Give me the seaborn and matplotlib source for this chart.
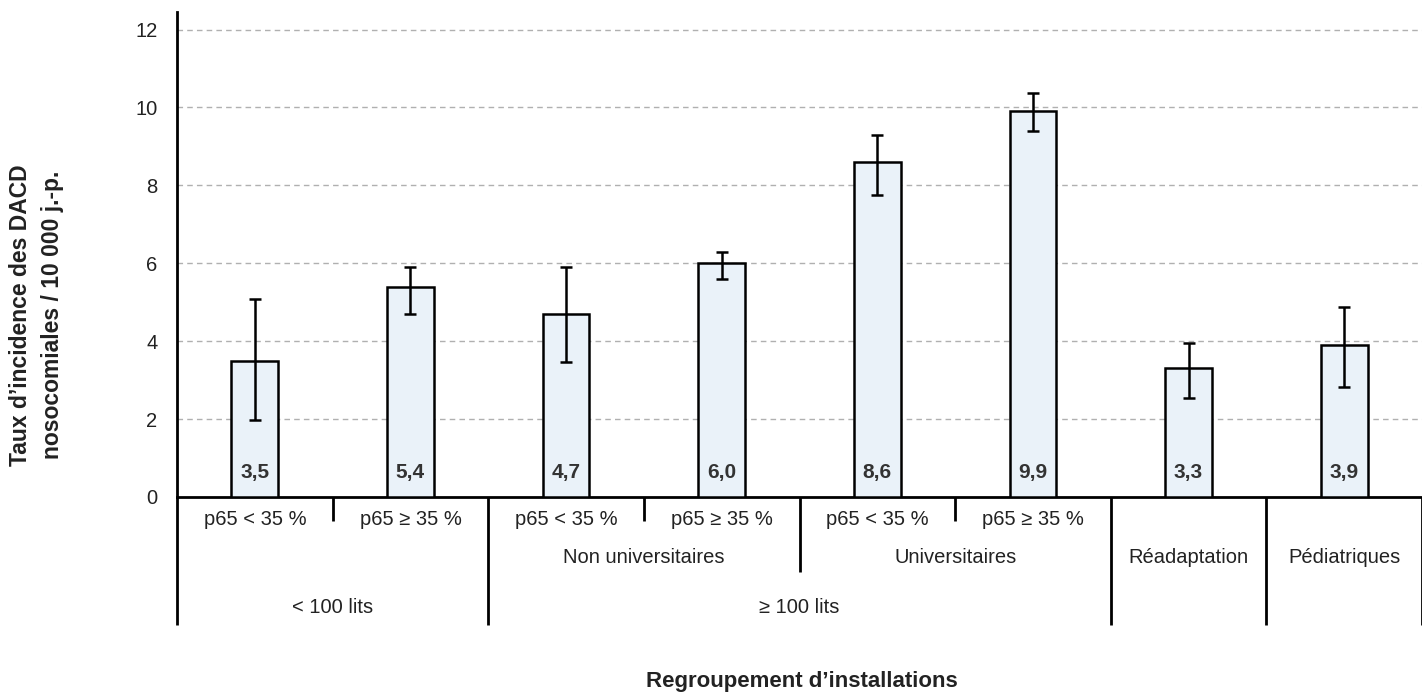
import numpy as np
import pandas as pd
import matplotlib
matplotlib.use("Agg")
import matplotlib.pyplot as plt
import matplotlib.transforms as mtransforms
import seaborn as sns

# ── data ──────────────────────────────────────────────────────────────────────
groupes   = ["<100 p65<35", "<100 p65>=35", "NU p65<35", "NU p65>=35",
             "U p65<35", "U p65>=35", "Readapt", "Pedia"]
taux      = [3.5, 5.4, 4.7, 6.0, 8.6, 9.9, 3.3, 3.9]
etiquettes = ["3,5", "5,4", "4,7", "6,0", "8,6", "9,9", "3,3", "3,9"]
ic_bas    = [1.98, 4.69, 3.47, 5.60, 7.75, 9.40, 2.54, 2.82]
ic_haut   = [5.08, 5.91, 5.91, 6.29, 9.30, 10.36, 3.95, 4.88]

niveau1 = ["p65 < 35 %", "p65 ≥ 35 %"] * 3
niveau2 = [("Non universitaires", 2, 4), ("Universitaires", 4, 6),
           ("Réadaptation", 6, 7), ("Pédiatriques", 7, 8)]
niveau3 = [("< 100 lits", 0, 2), ("≥ 100 lits", 2, 6)]

y_ticks = [0, 2, 4, 6, 8, 10, 12]

df = pd.DataFrame({"groupe": groupes, "taux": taux})

# ── style ─────────────────────────────────────────────────────────────────────
sns.set_theme(style="white")
plt.rcParams["font.family"] = ["Liberation Sans", "DejaVu Sans"]
TXT = "#222222"
FS = 14.5

fig = plt.figure(figsize=(14.22, 6.94), dpi=100)
ax = fig.add_axes([177 / 1422, 1 - 497 / 694, 1245 / 1422, 485 / 694])

sns.barplot(data=df, x="groupe", y="taux", order=groupes, color="#eaf2f9",
            saturation=1, width=0.30, edgecolor="black", linewidth=1.8,
            errorbar=None, ax=ax, zorder=3)

pos = np.arange(len(groupes))
taux_arr = np.array(taux)
yerr = [taux_arr - np.array(ic_bas), np.array(ic_haut) - taux_arr]
ax.errorbar(pos, taux_arr, yerr=yerr, fmt="none", ecolor="black",
            elinewidth=1.8, capsize=4.2, capthick=1.8, zorder=4)

for p, lab in zip(pos, etiquettes):
    ax.text(p, 0.62, lab, ha="center", va="center", fontsize=15,
            fontweight="bold", color="#333333", zorder=5)

ax.set_xlim(-0.5, len(groupes) - 0.5)
ax.set_ylim(0, 12.45)
ax.set_yticks(y_ticks)
ax.set_yticklabels([str(t) for t in y_ticks], fontsize=FS, color=TXT)
ax.tick_params(axis="y", length=0, pad=14)
ax.set_xticks([])
ax.set_xlabel("")
ax.set_ylabel("")

for t in y_ticks[1:]:
    ax.axhline(t, color="#b0b0b0", lw=1, ls=(0, (4, 3)), zorder=1)

for side in ["top", "right"]:
    ax.spines[side].set_visible(False)
ax.spines["left"].set_linewidth(2)
ax.spines["bottom"].set_linewidth(2)
ax.spines["left"].set_color("black")
ax.spines["bottom"].set_color("black")

# ── hierarchical category table under the axis ───────────────────────────────
trans = mtransforms.blended_transform_factory(ax.transData, ax.transAxes)
h_short, h_mid, h_long = -0.049, -0.155, -0.264
separateurs = {-0.5: h_long, 0.5: h_short, 1.5: h_long, 2.5: h_short,
               3.5: h_mid, 4.5: h_short, 5.5: h_long, 6.5: h_long, 7.5: h_long}
for xs, h in separateurs.items():
    ax.plot([xs, xs], [0, h], transform=trans, color="black", lw=2,
            clip_on=False, solid_capstyle="butt")

for i, lab in enumerate(niveau1):
    ax.text(i, -0.047, lab, transform=trans, ha="center", va="center",
            fontsize=FS, color=TXT)
for lab, a, b in niveau2:
    ax.text((a + b - 1) / 2, -0.124, lab, transform=trans, ha="center",
            va="center", fontsize=FS, color=TXT)
for lab, a, b in niveau3:
    ax.text((a + b - 1) / 2, -0.227, lab, transform=trans, ha="center",
            va="center", fontsize=FS, color=TXT)

fig.text(37 / 1422, 1 - 315 / 694,
         "Taux d’incidence des DACD\nnosocomiales / 10 000 j.-p.",
         rotation=90, ha="center", va="center", fontsize=16.5,
         fontweight="bold", color=TXT, linespacing=1.5)
fig.text(802 / 1422, 1 - 682 / 694, "Regroupement d’installations",
         ha="center", va="center", fontsize=16, fontweight="bold", color=TXT)

fig.savefig("out.png", dpi=100)
